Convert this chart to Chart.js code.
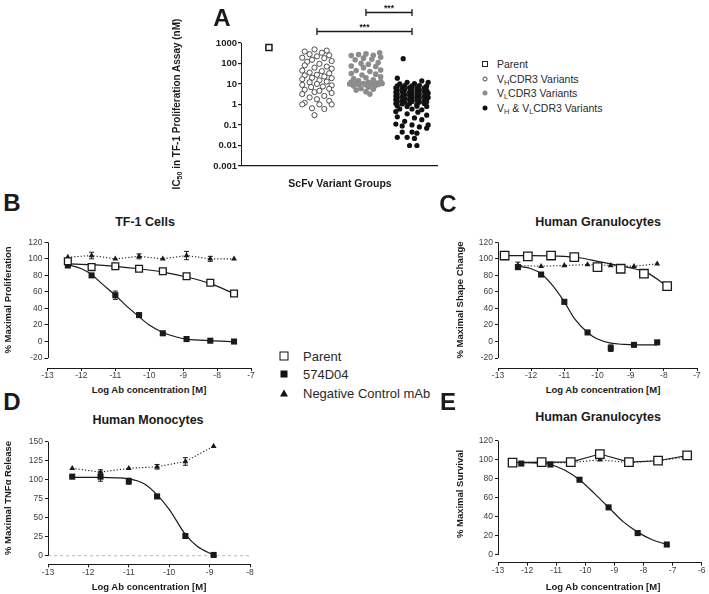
<!DOCTYPE html>
<html lang="en">
<head>
<meta charset="UTF-8">
<title>ScFv variants and dose response</title>
<script src="https://cdn.jsdelivr.net/npm/chart.js@4"></script>
<style>
  body { margin: 0; background: #fff; font-family: "Liberation Sans", Arial, sans-serif; color: #1a1a1a; }
  #page { position: relative; width: 709px; height: 594px; overflow: hidden; }
  canvas { position: absolute; }
  .t { position: absolute; white-space: nowrap; line-height: 1; transform: translate(-50%, -50%); }
  .letter { font-size: 24px; font-weight: bold; }
  .title { font-size: 12.5px; font-weight: bold; }
  .xlab { font-size: 9.5px; font-weight: bold; }
  .ylab { font-size: 9.5px; font-weight: bold; transform: translate(-50%, -50%) rotate(-90deg); }
  .leg { position: absolute; white-space: nowrap; line-height: 1; transform: translateY(-50%); color: #2a2a2a; }
  .mk { position: absolute; transform: translate(-50%, -50%); box-sizing: border-box; }
  sub { font-size: 70%; vertical-align: -0.25em; line-height: 0; }
</style>
</head>
<body>
<div id="page">

  <canvas id="chartA" width="280" height="200" style="left:170px;top:0px"></canvas>
  <canvas id="chartB" width="262" height="152" style="left:0px;top:232px"></canvas>
  <canvas id="chartC" width="259" height="152" style="left:450px;top:232px"></canvas>
  <canvas id="chartD" width="262" height="152" style="left:0px;top:432px"></canvas>
  <canvas id="chartE" width="259" height="152" style="left:450px;top:432px"></canvas>

  <!-- panel letters -->
  <div class="t letter" style="left:222px;top:18px">A</div>
  <div class="t letter" style="left:12px;top:203px">B</div>
  <div class="t letter" style="left:448px;top:204px">C</div>
  <div class="t letter" style="left:12px;top:402px">D</div>
  <div class="t letter" style="left:448px;top:402px">E</div>

  <!-- panel A texts -->
  <div class="t ylab" style="left:177px;top:104px;font-size:10px">IC<sub>50</sub> in TF-1 Proliferation Assay (nM)</div>
  <div class="t xlab" style="left:340px;top:183px;font-size:10.5px">ScFv Variant Groups</div>

  <!-- panel A legend -->
  <div class="mk" style="left:485px;top:64px;width:6px;height:6px;border:1.4px solid #222;background:#fff"></div>
  <div class="mk" style="left:485px;top:78.5px;width:5px;height:5px;border:1px solid #444;border-radius:50%;background:#fff"></div>
  <div class="mk" style="left:485px;top:93px;width:5px;height:5px;border-radius:50%;background:#8c8c8c"></div>
  <div class="mk" style="left:485px;top:108px;width:5px;height:5px;border-radius:50%;background:#111"></div>
  <div class="leg" style="left:497px;top:64px;font-size:10.5px">Parent</div>
  <div class="leg" style="left:497px;top:78.5px;font-size:10.5px">V<sub>H</sub>CDR3 Variants</div>
  <div class="leg" style="left:497px;top:93px;font-size:10.5px">V<sub>L</sub>CDR3 Variants</div>
  <div class="leg" style="left:497px;top:108px;font-size:10.5px">V<sub>H</sub> &amp; V<sub>L</sub>CDR3 Variants</div>

  <!-- titles -->
  <div class="t title" style="left:145px;top:222px">TF-1 Cells</div>
  <div class="t title" style="left:598px;top:222px">Human Granulocytes</div>
  <div class="t title" style="left:148px;top:420px">Human Monocytes</div>
  <div class="t title" style="left:598px;top:417px">Human Granulocytes</div>

  <div class="t ylab" style="left:8px;top:300px">% Maximal Proliferation</div>
  <div class="t ylab" style="left:460px;top:300px">% Maximal Shape Change</div>
  <div class="t ylab" style="left:8px;top:498px">% Maximal TNF&alpha; Release</div>
  <div class="t ylab" style="left:460px;top:494px">% Maximal Survival</div>

  <div class="t xlab" style="left:149px;top:390px">Log Ab concentration [M]</div>
  <div class="t xlab" style="left:603px;top:390px">Log Ab concentration [M]</div>
  <div class="t xlab" style="left:149px;top:587px">Log Ab concentration [M]</div>
  <div class="t xlab" style="left:603px;top:587px">Log Ab concentration [M]</div>

  <!-- shared legend for B-E -->
  <div class="mk" style="left:284px;top:355.5px;width:9px;height:9px;border:1.6px solid #111;background:#fff"></div>
  <div class="mk" style="left:284px;top:374px;width:7px;height:7px;background:#111"></div>
  <div class="mk" style="left:284px;top:393px;width:0;height:0;border-left:4px solid transparent;border-right:4px solid transparent;border-bottom:7px solid #111"></div>
  <div class="leg" style="left:303px;top:355.5px;font-size:13px">Parent</div>
  <div class="leg" style="left:303px;top:374px;font-size:13px">574D04</div>
  <div class="leg" style="left:303px;top:393px;font-size:13px">Negative Control mAb</div>
</div>

<script>
  // ---------- panel A : IC50 per variant group (dx = horizontal scatter offset, value in nM) ----------
  var aTicks = [0.001, 0.01, 0.1, 1, 10, 100, 1000];
  var aGroupX = [0.57, 1.55, 2.55, 3.49];
  var aParent = [600];
  var aVH = [
    [-0.05, 480], [0.2, 420], [-0.25, 380], [0.1, 330], [-0.15, 280], [0.25, 250], [0.0, 220], [-0.3, 190],
    [0.15, 180], [-0.1, 150], [0.3, 130], [-0.2, 120], [0.05, 95], [-0.25, 80], [0.2, 70], [-0.05, 62],
    [0.3, 55], [-0.3, 45], [0.1, 42], [-0.15, 36], [0.25, 33], [0.0, 28], [-0.25, 26], [0.15, 23],
    [-0.1, 20], [0.3, 19], [-0.3, 17], [0.05, 15], [0.2, 13], [-0.15, 12], [0.0, 10], [-0.3, 9],
    [0.3, 8.5], [0.12, 7.5], [-0.12, 7], [0.25, 5.8], [-0.25, 5.2], [0.05, 4.6], [-0.05, 4], [0.3, 3.6],
    [-0.3, 3.2], [0.15, 2.6], [-0.15, 2.2], [0.0, 1.8], [0.25, 1.5], [-0.25, 1.2], [0.3, 1.0], [-0.3, 1.0],
    [0.05, 1.0], [-0.1, 0.65], [0.15, 0.6], [-0.05, 0.3]
  ];
  var aVL = [
    [0.28, 330], [0.0, 290], [-0.15, 270], [0.15, 250], [-0.3, 240], [0.3, 200], [-0.05, 180], [0.12, 160],
    [-0.22, 150], [0.25, 110], [-0.1, 100], [0.05, 90], [-0.3, 75], [0.2, 70], [-0.05, 62], [0.3, 48],
    [-0.2, 45], [0.08, 40], [-0.3, 32], [0.2, 30], [-0.08, 27], [0.3, 22], [0.0, 20], [-0.25, 18],
    [0.15, 16], [-0.15, 14], [0.3, 13], [-0.3, 12.5], [0.05, 12], [0.2, 11.5], [-0.2, 11], [0.33, 10.5],
    [-0.05, 10.5], [0.1, 10], [-0.33, 10], [0.25, 9.5], [-0.15, 9.5], [0.0, 9], [-0.25, 8], [0.18, 8],
    [0.05, 7], [-0.1, 6], [0.15, 5.5], [-0.2, 5], [0.0, 4.2], [0.08, 3.2]
  ];
  var aVHVL = [
    [-0.18, 170], [-0.3, 19], [0.2, 14], [-0.1, 12], [0.33, 12], [0.05, 10.5], [-0.25, 10],
    [-0.3, 8], [-0.15, 8.2], [0.0, 8], [0.15, 8.3], [0.3, 8],
    [-0.33, 6.5], [-0.2, 6.3], [-0.05, 6.6], [0.1, 6.4], [0.25, 6.5],
    [-0.3, 5], [-0.15, 5.2], [0.0, 5], [0.15, 5.1], [0.3, 4.9],
    [-0.33, 4], [-0.2, 4.1], [-0.05, 3.9], [0.1, 4], [0.25, 4.2], [0.33, 3.6],
    [-0.3, 3.2], [-0.15, 3.1], [0.0, 3.3], [0.15, 3.2], [0.3, 3.1],
    [-0.33, 2.6], [-0.2, 2.5], [-0.05, 2.7], [0.1, 2.6], [0.25, 2.5], [0.33, 2.2],
    [-0.3, 2.1], [-0.15, 2.0], [0.0, 2.2], [0.15, 2.1], [0.3, 1.9],
    [-0.33, 1.7], [-0.2, 1.6], [-0.05, 1.75], [0.1, 1.7], [0.25, 1.6],
    [-0.3, 1.35], [-0.15, 1.3], [0.0, 1.4], [0.15, 1.3], [0.3, 1.35],
    [-0.33, 1.1], [-0.2, 1.05], [-0.05, 1.1], [0.1, 1.0], [0.25, 1.1],
    [-0.3, 0.85], [-0.1, 0.8], [0.1, 0.82], [0.3, 0.8],
    [-0.25, 0.6], [0.0, 0.6], [0.2, 0.55], [-0.33, 0.45], [0.12, 0.42], [-0.1, 0.35], [0.3, 0.3],
    [-0.3, 0.25], [0.05, 0.22], [0.2, 0.18], [-0.15, 0.15], [-0.33, 0.11], [0.0, 0.1], [0.33, 0.1],
    [-0.2, 0.09], [0.15, 0.08], [0.3, 0.07], [-0.2, 0.045], [0.0, 0.045], [0.1, 0.04],
    [-0.3, 0.025], [-0.1, 0.025], [0.05, 0.022], [-0.05, 0.01], [0.1, 0.01]
  ];
  // significance brackets: from group, to group, height (nM)
  var aSig = [[2.55, 3.49, 33000], [1.55, 3.49, 3700]];

  // ---------- panel B : TF-1 cells ----------
  var bX = [-12.4, -11.7, -11.0, -10.3, -9.6, -8.9, -8.2, -7.5];
  var bParent = [97, 90, 91, 88, 85, 79, 71, 58];
  var bAb = [92, 80, 56, 32, 10, 3, 1, 0];
  var bAbErr = [0, 0, 5, 2, 0, 0, 0, 0];
  var bNeg = [102, 104, 100, 103, 100, 104, 100, 100];
  var bNegErr = [0, 4, 0, 3, 0, 5, 3, 0];
  var bFitAbX = [-12.4, -12.0, -11.7, -11.4, -11.0, -10.7, -10.3, -10.0, -9.6, -9.2, -8.9, -8.2, -7.5];
  var bFitAb = [93, 88, 81, 70, 56, 44, 30, 20, 11, 5.5, 3, 1, 0];
  var bFitParent = [94, 93, 91, 88, 84, 78, 70, 58];

  // ---------- panel C : human granulocytes, shape change ----------
  var cParentX = [-12.8, -12.1, -11.4, -10.7, -10.0, -9.3, -8.6, -7.9];
  var cParent = [104, 103, 104, 102, 90, 88, 82, 67];
  var cX = [-12.4, -11.7, -11.0, -10.3, -9.6, -8.9, -8.2];
  var cAb = [90, 81, 48, 11, -8, -4, -1];
  var cAbErr = [3, 2, 0, 0, 4, 0, 0];
  var cNeg = [92, 91, 92, 93, 92, 91, 94];
  var cNegErr = [4, 0, 0, 0, 0, 0, 0];
  var cFitAbX = [-12.4, -12.0, -11.7, -11.4, -11.0, -10.7, -10.3, -10.0, -9.6, -9.2, -8.9, -8.2];
  var cFitAb = [91, 88, 82, 70, 48, 28, 11, 3, -2, -3.5, -4, -4];
  var cFitParentX = [-12.8, -12.0, -11.0, -10.5, -10.0, -9.5, -9.0, -8.5, -7.9];
  var cFitParent = [104, 104, 103, 101, 97, 93, 89, 83, 67];

  // ---------- panel D : human monocytes, TNFa release ----------
  var dX = [-12.4, -11.7, -11.0, -10.3, -9.6, -8.9];
  var dAb = [104, 104, 98, 78, 26, 1];
  var dAbErr = [0, 6, 4, 0, 0, 0];
  var dNeg = [115, 110, 115, 117, 124, 144];
  var dNegErr = [0, 3, 0, 3, 5, 0];
  var dFitX = [-12.4, -11.7, -11.0, -10.6, -10.3, -10.0, -9.6, -9.3, -8.9];
  var dFit = [103, 103, 101, 94, 80, 61, 28, 12, 1];
  var dBaseX = [-13, -8];
  var dBase = [0, 0];

  // ---------- panel E : human granulocytes, survival ----------
  var eParentX = [-12.5, -11.5, -10.5, -9.5, -8.5, -7.5, -6.5];
  var eParent = [97, 97.5, 97.5, 106, 97.5, 99, 104.5];
  var eNeg = [97, 97, 97, 100, 97, 99, 103];
  var eX = [-12.2, -11.2, -10.2, -9.2, -8.2, -7.2];
  var eAb = [96, 95, 79, 50, 23, 11];
  var eFitX = [-12.2, -11.6, -11.2, -10.7, -10.2, -9.7, -9.2, -8.7, -8.2, -7.7, -7.2];
  var eFit = [97, 96.5, 95, 89, 79, 65, 50, 35, 24, 16, 11];

  var pctTicks120 = [-20, 0, 20, 40, 60, 80, 100, 120];
  var pctTicks150 = [0, 25, 50, 75, 100, 125, 150];
  var pctTicksE = [0, 20, 40, 60, 80, 100, 120];

  Chart.defaults.font.family = '"Liberation Sans", Arial, sans-serif';
  var ink = '#1a1a1a';
  var tickInk = '#3c3c3c';

  function pts(xs, ys) {
    return xs.map(function (x, i) { return { x: x, y: ys[i] }; });
  }

  // y axis line drawn only over the labelled range (GraphPad style offset axes)
  var yLine = {
    id: 'yLine',
    afterDraw: function (chart, args, opts) {
      var s = chart.scales.y, ctx = chart.ctx;
      var x = Math.round(chart.chartArea.left) + 0.5;
      ctx.save();
      ctx.strokeStyle = ink;
      ctx.lineWidth = 1;
      ctx.beginPath();
      ctx.moveTo(x, s.getPixelForValue(opts.from));
      ctx.lineTo(x, s.getPixelForValue(opts.to));
      ctx.stroke();
      ctx.restore();
    }
  };

  var errBars = {
    id: 'errBars',
    beforeDatasetsDraw: function (chart) {
      var ctx = chart.ctx, s = chart.scales.y;
      ctx.save();
      ctx.strokeStyle = ink;
      ctx.lineWidth = 1;
      chart.data.datasets.forEach(function (ds, i) {
        if (!ds.errors) return;
        chart.getDatasetMeta(i).data.forEach(function (p, j) {
          var e = ds.errors[j];
          if (!e) return;
          var v = ds.data[j].y;
          var t = s.getPixelForValue(v + e), b = s.getPixelForValue(v - e);
          ctx.beginPath();
          ctx.moveTo(p.x, t); ctx.lineTo(p.x, b);
          ctx.moveTo(p.x - 2.5, t); ctx.lineTo(p.x + 2.5, t);
          ctx.moveTo(p.x - 2.5, b); ctx.lineTo(p.x + 2.5, b);
          ctx.stroke();
        });
      });
      ctx.restore();
    }
  };

  var sigBars = {
    id: 'sigBars',
    afterDraw: function (chart, args, opts) {
      var ctx = chart.ctx, sx = chart.scales.x, sy = chart.scales.y;
      ctx.save();
      ctx.strokeStyle = ink;
      ctx.fillStyle = ink;
      ctx.lineWidth = 1.3;
      ctx.font = 'bold 8.5px "Liberation Sans", Arial';
      ctx.textAlign = 'center';
      opts.bars.forEach(function (b) {
        var x1 = sx.getPixelForValue(b[0]), x2 = sx.getPixelForValue(b[1]);
        var y = Math.round(sy.getPixelForValue(b[2])) + 0.5;
        ctx.beginPath();
        ctx.moveTo(x1, y); ctx.lineTo(x2, y);
        ctx.moveTo(x1, y - 3.5); ctx.lineTo(x1, y + 3.5);
        ctx.moveTo(x2, y - 3.5); ctx.lineTo(x2, y + 3.5);
        ctx.stroke();
        ctx.fillText('***', (x1 + x2) / 2, y - 2);
      });
      ctx.restore();
    }
  };

  // ----- panel A chart -----
  function groupPts(gx, list) {
    return list.map(function (d) { return { x: gx + d[0], y: d[1] }; });
  }

  new Chart(document.getElementById('chartA'), {
    type: 'scatter',
    data: {
      datasets: [
        { data: [{ x: aGroupX[0], y: aParent[0] }], pointStyle: 'rect', pointRadius: 4.3, pointBorderWidth: 1.5,
          pointBackgroundColor: '#fff', pointBorderColor: ink, clip: false },
        { data: groupPts(aGroupX[1], aVH), pointRadius: 2.6, pointBorderWidth: 0.9,
          pointBackgroundColor: '#fff', pointBorderColor: '#3a3a3a', clip: false },
        { data: groupPts(aGroupX[2], aVL), pointRadius: 2.8, pointBorderWidth: 0,
          pointBackgroundColor: '#8c8c8c', pointBorderColor: '#8c8c8c', clip: false },
        { data: groupPts(aGroupX[3], aVHVL), pointRadius: 2.6, pointBorderWidth: 0,
          pointBackgroundColor: '#111', pointBorderColor: '#111', clip: false }
      ]
    },
    options: {
      responsive: false,
      animation: false,
      events: [],
      layout: { padding: { left: 0, top: 3, right: 13, bottom: 32 } },
      plugins: {
        legend: { display: false },
        tooltip: { enabled: false },
        yLine: { from: 0.001, to: 1000 },
        sigBars: { bars: aSig }
      },
      scales: {
        x: {
          type: 'linear', min: 0, max: 4,
          ticks: { display: false },
          grid: { display: false },
          border: { color: ink, width: 1.3 },
          afterFit: function (s) { s.height = 2; }
        },
        y: {
          type: 'logarithmic', min: 0.001, max: 58000,
          afterBuildTicks: function (s) { s.ticks = aTicks.map(function (v) { return { value: v }; }); },
          ticks: { callback: function (v) { return String(v); }, font: { size: 9.5, weight: 'bold' }, color: '#222', padding: 1 },
          grid: { drawOnChartArea: false, tickLength: 3, color: ink, lineWidth: 1.2 },
          border: { display: false },
          afterFit: function (s) { s.width = 71; }
        }
      }
    },
    plugins: [yLine, sigBars]
  });

  // ----- dose response panels -----
  function parentSet(xs, ys, r, line) {
    return { data: pts(xs, ys), pointStyle: 'rect', pointRadius: r, pointBorderWidth: 1.3,
      pointBackgroundColor: '#fff', pointBorderColor: ink, borderColor: ink, borderWidth: 1.1,
      showLine: !!line, clip: false };
  }
  function abSet(xs, ys, errs) {
    return { data: pts(xs, ys), errors: errs, pointStyle: 'rect', pointRadius: 4.3, pointBorderWidth: 0,
      pointBackgroundColor: ink, pointBorderColor: ink, showLine: false, clip: false };
  }
  function negSet(xs, ys, errs) {
    return { data: pts(xs, ys), errors: errs, pointStyle: 'triangle', pointRadius: 3.4, pointBorderWidth: 0,
      pointBackgroundColor: ink, pointBorderColor: ink, borderColor: ink, borderWidth: 1.1,
      borderDash: [1.2, 2], showLine: true, clip: false };
  }
  function fitSet(xs, ys) {
    return { data: pts(xs, ys), pointRadius: 0, borderColor: ink, borderWidth: 1.2,
      showLine: true, cubicInterpolationMode: 'monotone', clip: false };
  }

  function dosePanel(id, p, datasets) {
    return new Chart(document.getElementById(id), {
      type: 'scatter',
      data: { datasets: datasets },
      options: {
        responsive: false,
        animation: false,
        events: [],
        layout: { padding: p.pad },
        plugins: {
          legend: { display: false },
          tooltip: { enabled: false },
          yLine: { from: p.yTicks[0], to: p.yTicks[p.yTicks.length - 1] }
        },
        scales: {
          x: {
            type: 'linear', min: p.xMin, max: p.xMax,
            ticks: { stepSize: 1, font: { size: 8.5 }, color: tickInk, padding: 0, maxRotation: 0, autoSkip: false },
            grid: { drawOnChartArea: false, tickLength: 3, color: ink },
            border: { color: ink, width: 1 },
            afterFit: function (s) { s.height = 14; }
          },
          y: {
            min: p.yMin, max: p.yMax,
            afterBuildTicks: function (s) { s.ticks = p.yTicks.map(function (v) { return { value: v }; }); },
            ticks: { font: { size: 8.5 }, color: tickInk, padding: 2 },
            grid: { drawOnChartArea: false, tickLength: 3, color: ink },
            border: { display: false },
            afterFit: function (s) { s.width = p.yW; }
          }
        }
      },
      plugins: [yLine, errBars]
    });
  }

  dosePanel('chartB', { pad: { left: 0, top: 10.3, right: 11, bottom: 2 }, yW: 47.5,
    xMin: -13, xMax: -7, yMin: -32, yMax: 120, yTicks: pctTicks120 }, [
    parentSet(bX, bParent, 4.8),
    abSet(bX, bAb, bAbErr),
    negSet(bX, bNeg, bNegErr),
    fitSet(bX, bFitParent),
    fitSet(bFitAbX, bFitAb)
  ]);

  dosePanel('chartC', { pad: { left: 0, top: 10.3, right: 12, bottom: 2 }, yW: 48,
    xMin: -13, xMax: -7, yMin: -32, yMax: 120, yTicks: pctTicks120 }, [
    parentSet(cParentX, cParent, 6),
    abSet(cX, cAb, cAbErr),
    negSet(cX, cNeg, cNegErr),
    fitSet(cFitParentX, cFitParent),
    fitSet(cFitAbX, cFitAb)
  ]);

  dosePanel('chartD', { pad: { left: 0, top: 9.7, right: 12, bottom: 5.7 }, yW: 48,
    xMin: -13, xMax: -8, yMin: -11.3, yMax: 150, yTicks: pctTicks150 }, [
    abSet(dX, dAb, dAbErr),
    negSet(dX, dNeg, dNegErr),
    fitSet(dFitX, dFit),
    { data: pts(dBaseX, dBase), pointRadius: 0, borderColor: '#b5b5b5', borderWidth: 1,
      borderDash: [3, 3], showLine: true }
  ]);

  dosePanel('chartE', { pad: { left: 0, top: 8.7, right: 3, bottom: 7.3 }, yW: 48,
    xMin: -13, xMax: -6, yMin: -8.1, yMax: 120, yTicks: pctTicksE }, [
    parentSet(eParentX, eParent, 6, true),
    abSet(eX, eAb, null),
    negSet(eParentX, eNeg, null),
    fitSet(eFitX, eFit)
  ]);
</script>
</body>
</html>
